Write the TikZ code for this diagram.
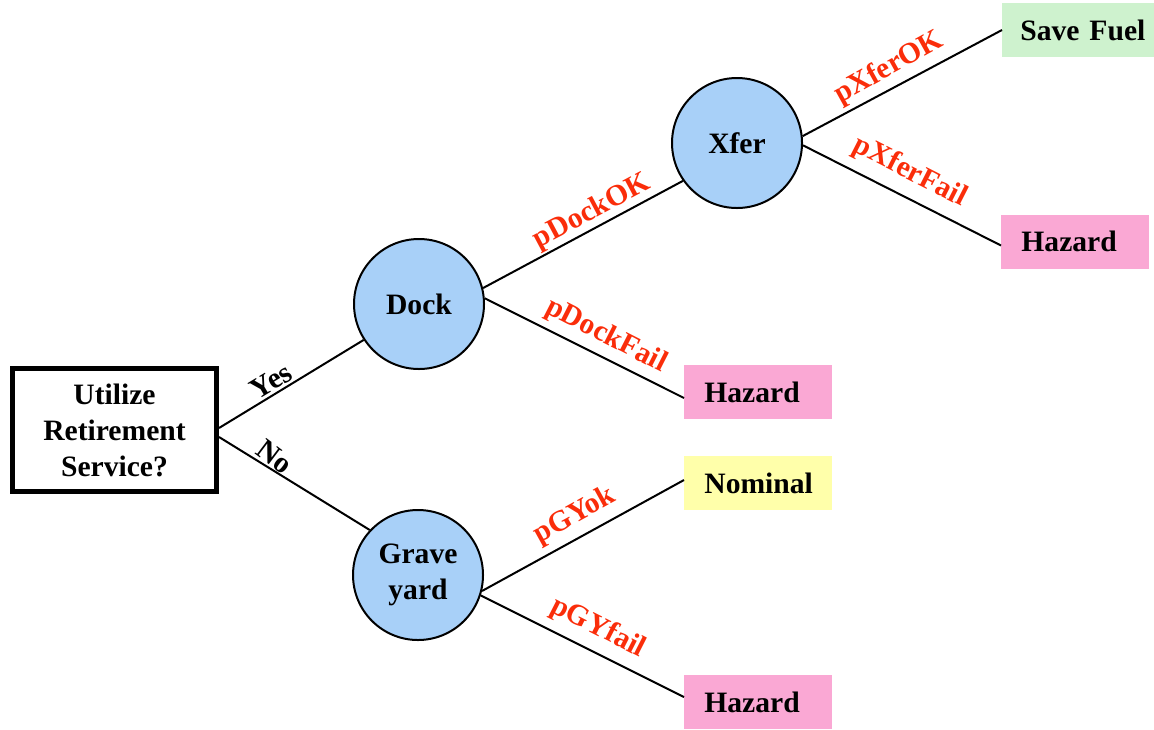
\documentclass[tikz,border=0pt]{standalone}
\usepackage{fontspec}
\setmainfont{Liberation Serif}
\usetikzlibrary{calc}
\definecolor{circblue}{RGB}{168,208,248}
\definecolor{hazpink}{RGB}{250,168,212}
\definecolor{savegreen}{RGB}{206,242,206}
\definecolor{nomyellow}{RGB}{255,255,170}
\definecolor{labred}{RGB}{250,45,10}
\tikzset{
  x=0.5pt, y=-0.5pt,
  basefont/.style={font=\fontsize{14.8}{18}\selectfont\bfseries},
  chance/.style={circle, draw=black, line width=1pt, fill=circblue, minimum size=65pt, inner sep=0pt, align=center, basefont},
  leaf/.style={rectangle, inner xsep=10pt, inner ysep=0pt, text width=54pt, align=left, minimum height=27pt, anchor=west, basefont},
  decision/.style={rectangle, draw=black, line width=2.5pt, fill=white, minimum width=102pt, minimum height=61.5pt, align=center, basefont},
  branch/.style={draw=black, line width=1pt},
  plab/.style={inner sep=0pt, text=labred, basefont},
  ylab/.style={inner sep=0pt, text=black, basefont}
}
\begin{document}
\begin{tikzpicture}
\useasboundingbox (0,0) rectangle (1154,729);
% nodes
\node[decision] (root) at (114.5,430) {Utilize\\Retirement\\Service?};
\node[chance] (dock) at (419,304) {Dock};
\node[chance] (grave) at (418,575) {Grave\\yard};
\node[chance] (xfer) at (737,143) {Xfer};
\node[leaf, fill=savegreen, inner xsep=9pt, text width=63pt] (save) at (1002,30) {Save Fuel};
\node[leaf, fill=hazpink] (hz1) at (1001,241.5) {Hazard};
\node[leaf, fill=hazpink] (hz2) at (684,392) {Hazard};
\node[leaf, fill=nomyellow] (nom) at (684,483) {Nominal};
\node[leaf, fill=hazpink] (hz3) at (684,702) {Hazard};
% connectors
\draw[branch] ([yshift=1pt]root.east) -- (dock.213);
\draw[branch] ([yshift=-3.5pt]root.east) -- (grave.137);
\draw[branch] (dock.14) -- (xfer.215);
\draw[branch] (dock.5) -- ([yshift=-3pt]hz2.west);
\draw[branch] (xfer.6) -- (save.west);
\draw[branch] (xfer.-2) -- ([yshift=-2pt]hz1.west);
\draw[branch] (grave.-14) -- ([yshift=1.5pt]nom.west);
\draw[branch] (grave.-18) -- ([yshift=2.5pt]hz3.west);
% labels
\node[ylab, rotate=31] (lyes) at (271,381) {Yes};
\node[ylab, rotate=-37] (lno) at (275,457) {No};
\node[plab, rotate=28] (ldockok) at (592,212) {pDockOK};
\node[plab, rotate=-27] (ldockfail) at (606,336) {pDockFail};
\node[plab, rotate=29] (lxferok) at (889,68) {pXferOK};
\node[plab, rotate=-27] (lxferfail) at (910,172) {pXferFail};
\node[plab, rotate=29] (lgyok) at (575,516) {pGYok};
\node[plab, rotate=-27] (lgyfail) at (598,628) {pGYfail};
\end{tikzpicture}
\end{document}
